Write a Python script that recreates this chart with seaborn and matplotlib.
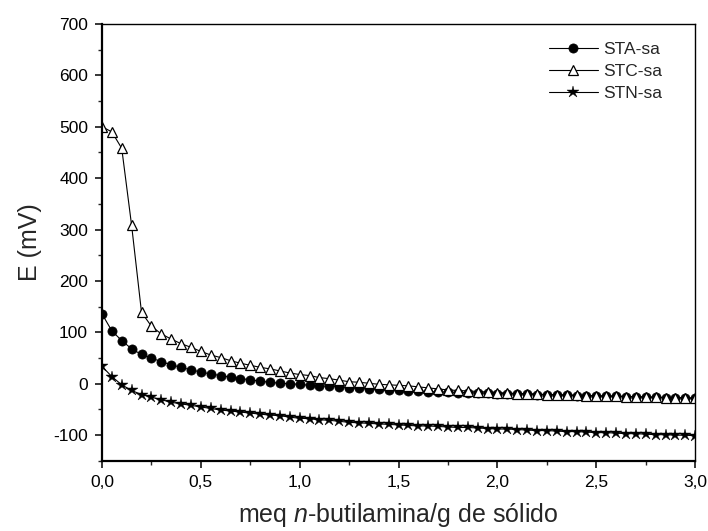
import numpy as np
import pandas as pd
import seaborn as sns
import matplotlib.pyplot as plt
from matplotlib.ticker import MultipleLocator

# n-butylamine titration data
meq = [0.00, 0.05, 0.10, 0.15, 0.20, 0.25, 0.30, 0.35, 0.40, 0.45,
       0.50, 0.55, 0.60, 0.65, 0.70, 0.75, 0.80, 0.85, 0.90, 0.95,
       1.00, 1.05, 1.10, 1.15, 1.20, 1.25, 1.30, 1.35, 1.40, 1.45,
       1.50, 1.55, 1.60, 1.65, 1.70, 1.75, 1.80, 1.85, 1.90, 1.95,
       2.00, 2.05, 2.10, 2.15, 2.20, 2.25, 2.30, 2.35, 2.40, 2.45,
       2.50, 2.55, 2.60, 2.65, 2.70, 2.75, 2.80, 2.85, 2.90, 2.95, 3.00]

sta_sa = [136, 103, 84, 68, 57, 50, 43, 37, 32, 27,
          23, 19, 16, 13, 10, 8, 5, 3, 1, 0,
          -1, -3, -4, -5, -6, -8, -9, -10, -11, -12,
          -13, -14, -14, -15, -16, -16, -17, -17, -18, -18,
          -19, -19, -20, -20, -21, -21, -22, -22, -23, -23,
          -24, -24, -24, -25, -25, -26, -26, -27, -27, -27, -28]

stc_sa = [500, 490, 458, 308, 139, 112, 97, 87, 78, 71,
          63, 56, 51, 45, 40, 36, 32, 29, 25, 21,
          18, 16, 12, 10, 7, 4, 3, 1, -1, -2,
          -3, -4, -6, -8, -10, -12, -13, -14, -15, -16,
          -17, -18, -19, -19, -20, -21, -21, -22, -22, -23,
          -23, -24, -24, -25, -25, -26, -26, -27, -27, -28, -28]

stn_sa = [34, 14, -2, -13, -21, -26, -31, -36, -39, -42,
          -45, -48, -51, -53, -55, -57, -59, -61, -62, -65,
          -67, -68, -70, -71, -73, -75, -76, -77, -78, -79,
          -80, -81, -82, -82, -83, -84, -85, -85, -86, -87,
          -88, -88, -89, -90, -91, -91, -92, -93, -93, -94,
          -95, -95, -96, -97, -97, -98, -99, -99, -100, -100, -101]

x_ticks = [0.0, 0.5, 1.0, 1.5, 2.0, 2.5, 3.0]
x_ticklabels = ['0,0', '0,5', '1,0', '1,5', '2,0', '2,5', '3,0']
y_ticks = [-100, 0, 100, 200, 300, 400, 500, 600, 700]

sns.set_style('ticks')
plt.rcParams['font.family'] = ['Liberation Sans', 'DejaVu Sans']
plt.rcParams['axes.unicode_minus'] = False
plt.rcParams['mathtext.fontset'] = 'custom'
plt.rcParams['mathtext.rm'] = 'Liberation Sans'
plt.rcParams['mathtext.it'] = 'Liberation Sans:italic'

fig = plt.figure(figsize=(7.08, 5.31), dpi=100)
ax = fig.add_axes([0.144, 0.132, 0.838, 0.823])

line_kw = dict(color='black', linewidth=0.8, markeredgecolor='black',
               estimator=None, sort=False, ax=ax)
sns.lineplot(x=meq, y=sta_sa, marker='o', markersize=6.6,
             markerfacecolor='black', markeredgewidth=0.5,
             label='STA-sa', **line_kw)
sns.lineplot(x=meq, y=stc_sa, marker='^', markersize=7.5,
             markerfacecolor='white', markeredgewidth=0.9,
             label='STC-sa', **line_kw)
sns.lineplot(x=meq, y=stn_sa, marker='*', markersize=9,
             markerfacecolor='black', markeredgewidth=0.3,
             label='STN-sa', **line_kw)

ax.set_xlim(0, 3.0)
ax.set_ylim(-150, 700)
ax.set_xticks(x_ticks)
ax.set_xticklabels(x_ticklabels)
ax.set_yticks(y_ticks)
ax.xaxis.set_minor_locator(MultipleLocator(0.25))
ax.yaxis.set_minor_locator(MultipleLocator(50))
ax.tick_params(which='major', direction='out', length=5, width=1.1,
               labelsize=12.5, pad=5, colors='black', top=False, right=False)
ax.tick_params(which='minor', direction='out', length=3, width=1.0,
               top=False, right=False)
for side, sp in ax.spines.items():
    sp.set_visible(True)
    sp.set_color('black')
    sp.set_linewidth(1.6 if side in ('left', 'bottom') else 1.0)

ax.set_xlabel(r'meq $\mathit{n}$-butilamina/g de sólido', fontsize=18,
              labelpad=8)
ax.set_ylabel('E (mV)', fontsize=18, labelpad=8)

ax.legend(loc='upper right', bbox_to_anchor=(0.97, 0.995), frameon=False,
          fontsize=12.5, handlelength=2.8, handletextpad=0.3,
          labelspacing=0.4)

fig.savefig('out.png', dpi=100)
